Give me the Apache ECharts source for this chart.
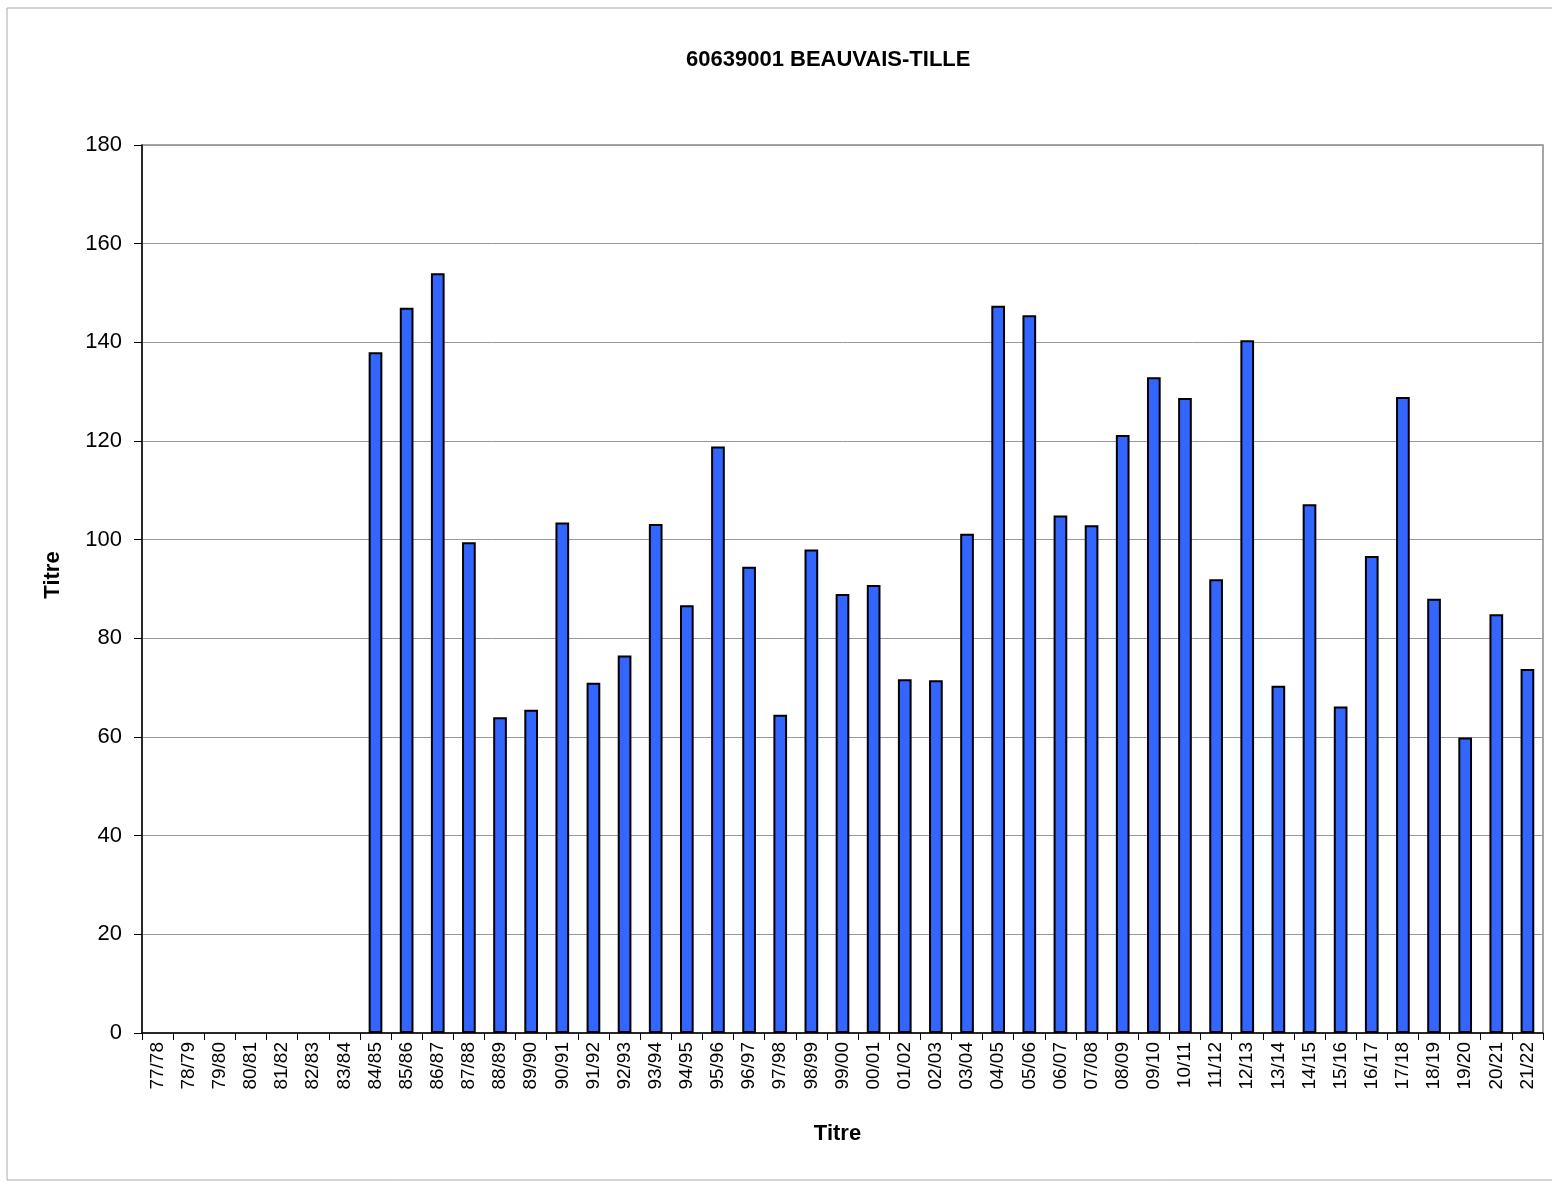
<!DOCTYPE html>
<html>
<head>
<meta charset="utf-8">
<script src="https://cdn.jsdelivr.net/npm/echarts@6/dist/echarts.min.js"></script>
<style>
html,body{margin:0;padding:0;background:#fff;}
#main{width:1552px;height:1183px;}
</style>
</head>
<body>
<div id="main"></div>
<script>
var categories = ['77/78','78/79','79/80','80/81','81/82','82/83','83/84','84/85','85/86','86/87',
	'87/88','88/89','89/90','90/91','91/92','92/93','93/94','94/95','95/96','96/97',
	'97/98','98/99','99/00','00/01','01/02','02/03','03/04','04/05','05/06','06/07',
	'07/08','08/09','09/10','10/11','11/12','12/13','13/14','14/15','15/16','16/17',
	'17/18','18/19','19/20','20/21','21/22'];
var titreValues = [null,null,null,null,null,null,null,138,147,154,
	99.5,64,65.5,103.5,71,76.5,103.2,86.7,118.9,94.5,
	64.5,98,89,90.8,71.7,71.5,101.2,147.4,145.5,104.9,
	102.9,121.2,132.9,128.7,92,140.4,70.4,107.2,66.2,96.7,
	128.9,88,59.9,84.9,73.8];
var yTicks = {min: 0, max: 180, interval: 20};

var myChart = echarts.init(document.getElementById('main'));
var fontFam = '"Liberation Sans", Arial, sans-serif';
var option = {
	animation: false,
	backgroundColor: '#fff',
	title: {
		text: '60639001 BEAUVAIS-TILLE',
		left: 681,
		top: 44,
		textStyle: {fontSize: 22, fontWeight: 'bold', color: '#000', fontFamily: fontFam}
	},
	graphic: [{
		type: 'rect',
		shape: {x: 7, y: 8, width: 1560, height: 1172},
		style: {fill: 'none', stroke: '#aaa', lineWidth: 1},
		silent: true
	}],
	grid: {
		left: 142, top: 145, right: 9, bottom: 150,
		show: true,
		borderColor: '#888',
		borderWidth: 1.5
	},
	xAxis: {
		type: 'category',
		data: categories,
		name: 'Titre',
		nameLocation: 'middle',
		nameGap: 90,
		nameTextStyle: {fontSize: 22, fontWeight: 'bold', color: '#000', fontFamily: fontFam, padding: [0, 10, 0, 0]},
		axisLine: {show: true, lineStyle: {color: '#000', width: 1.5}},
		axisTick: {show: true, alignWithLabel: false, length: 7, lineStyle: {color: '#000'}},
		axisLabel: {
			rotate: 90,
			interval: 0,
			margin: 9,
			fontSize: 19,
			color: '#000',
			fontFamily: fontFam
		},
		splitLine: {show: false}
	},
	yAxis: {
		type: 'value',
		min: yTicks.min,
		max: yTicks.max,
		interval: yTicks.interval,
		name: 'Titre',
		nameLocation: 'middle',
		nameGap: 78,
		nameTextStyle: {fontSize: 22, fontWeight: 'bold', color: '#000', fontFamily: fontFam, padding: [0, 0, 0, 28]},
		axisLine: {show: true, lineStyle: {color: '#000', width: 1.5}},
		axisTick: {show: true, length: 8, lineStyle: {color: '#000'}},
		axisLabel: {margin: 20, fontSize: 22, color: '#000', fontFamily: fontFam},
		splitLine: {show: true, lineStyle: {color: '#999', width: 1}}
	},
	series: [{
		name: 'Titre',
		type: 'bar',
		data: titreValues,
		barWidth: '44%',
		itemStyle: {color: '#3366FF', borderColor: '#000', borderWidth: 2}
	}]
};
myChart.setOption(option);
</script>
</body>
</html>
